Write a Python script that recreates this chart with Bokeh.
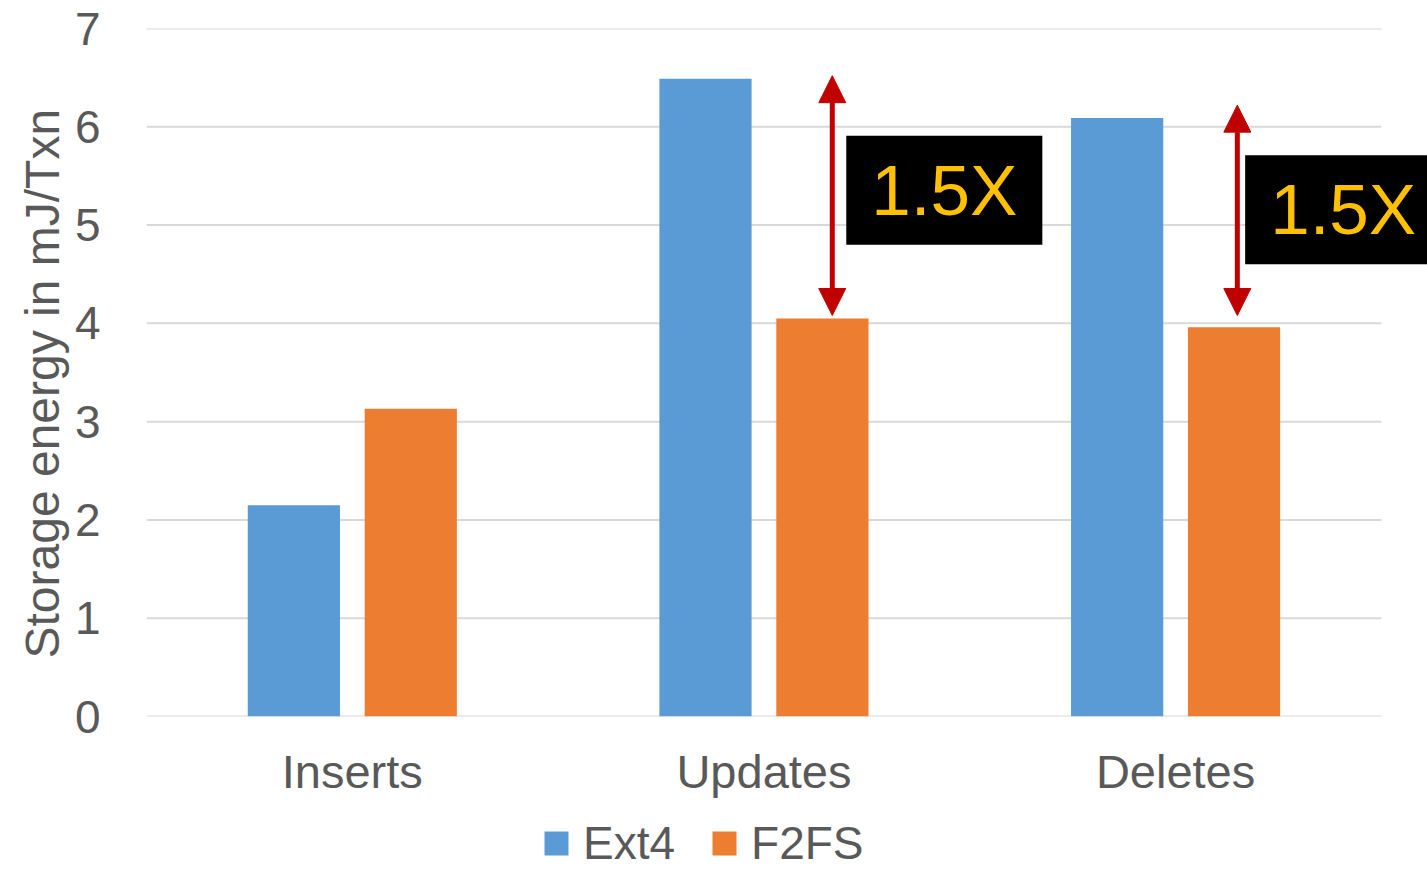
import numpy as np
from bokeh.plotting import figure
from bokeh.layouts import column
from bokeh.models import (ColumnDataSource, Range1d, FixedTicker, Legend, LegendItem,
                          Arrow, NormalHead, Label, Title)
from bokeh.transform import dodge
from bokeh.embed import file_html
from bokeh.resources import INLINE

# Storage energy per transaction (mJ/Txn)
categories = ["Inserts", "Updates", "Deletes"]
ext4 = [2.15, 6.49, 6.09]
f2fs = [3.13, 4.05, 3.96]
y_ticks = [0, 1, 2, 3, 4, 5, 6, 7]

# Reduction callouts: ratio text and arrow span (mJ/Txn)
callout_cats = ["Updates", "Deletes"]
callout_text = ["1.5X", "1.5X"]
arrow_top = [6.52, 6.22]
arrow_bottom = [4.08, 4.08]

FONT = "Liberation Sans"
GREY = "#595959"
GRID = "#D9D9D9"
BLUE = "#5B9BD5"
ORANGE = "#ED7D31"
RED = "#C00000"

n = len(categories)
xpos = np.arange(n) + 0.5
src = ColumnDataSource(dict(x=xpos, cat=categories, ext4=ext4, f2fs=f2fs))

# the frame runs on past the last category so the right callout box can reach the edge
p = figure(width=1427, height=800, x_range=Range1d(0, 3.112),
           y_range=Range1d(0, 7), output_backend="svg", toolbar_location=None,
           min_border_left=146, min_border_right=0, min_border_top=28,
           min_border_bottom=84)
p.outline_line_color = None
p.background_fill_color = "white"
p.border_fill_color = "white"
p.xgrid.grid_line_color = None
p.ygrid.grid_line_color = None

# horizontal gridlines spanning the category area only
p.segment(x0=0, x1=n, y0=y_ticks, y1=y_ticks, line_color=GRID, line_width=2)

r_ext4 = p.vbar(x=dodge("x", -0.142), top="ext4", width=0.224, source=src,
                fill_color=BLUE, line_color=None)
r_f2fs = p.vbar(x=dodge("x", 0.142), top="f2fs", width=0.224, source=src,
                fill_color=ORANGE, line_color=None)

# Axes
p.yaxis.ticker = FixedTicker(ticks=y_ticks)
p.yaxis.axis_line_color = None
p.yaxis.major_tick_line_color = None
p.yaxis.minor_tick_line_color = None
p.yaxis.major_label_text_font = FONT
p.yaxis.major_label_text_font_size = "46px"
p.yaxis.major_label_text_color = GREY
p.yaxis.major_label_standoff = 40

# y-axis caption, set a little below the middle of the value axis
p.add_layout(Title(text="Storage energy in mJ/Txn", align="left", offset=58,
                   text_font=FONT, text_font_size="48px", text_font_style="normal",
                   text_color=GREY, standoff=6), "left")

p.xaxis.ticker = FixedTicker(ticks=list(xpos))
p.xaxis.major_label_overrides = {float(x): c for x, c in zip(xpos, categories)}
p.xaxis.axis_line_color = None
p.xaxis.major_tick_line_color = None
p.xaxis.minor_tick_line_color = None
p.xaxis.major_label_text_font = FONT
p.xaxis.major_label_text_font_size = "47px"
p.xaxis.major_label_text_color = GREY
p.xaxis.major_label_standoff = 22

# Callout arrows and ratio boxes
cat_index = {c: i for i, c in enumerate(categories)}
arrow_offsets = [0.166, 0.150]
box_x = [0.20, 0.169]
box_top = [5.91, 5.71]
for c, txt, top, bot, ao, bx, bt in zip(callout_cats, callout_text, arrow_top,
                                        arrow_bottom, arrow_offsets, box_x, box_top):
    xc = xpos[cat_index[c]]
    p.add_layout(Arrow(x_start=xc + ao, y_start=bot, x_end=xc + ao, y_end=top,
                       line_color=RED, line_width=5,
                       start=NormalHead(size=27, fill_color=RED, line_color=RED),
                       end=NormalHead(size=27, fill_color=RED, line_color=RED)))
    p.add_layout(Label(x=xc + bx, y=bt, text=txt, anchor="top_left",
                       text_font=FONT, text_font_size="71px", text_color="#FFC000",
                       background_fill_color="black", padding=(25, 15)))

# Legend strip under the chart (its frame lines up with the chart frame)
lg = figure(width=1427, height=70, x_range=Range1d(0, 1), y_range=Range1d(0, 1),
            output_backend="svg", toolbar_location=None,
            min_border_left=0, min_border_right=0, min_border_top=0, min_border_bottom=0)
lg.axis.visible = False
lg.grid.grid_line_color = None
lg.outline_line_color = None
lg.border_fill_color = "white"
k_ext4 = lg.vbar(x="x", top="ext4", width=0.1, source=src, fill_color=BLUE,
                 line_color=None, visible=False)
k_f2fs = lg.vbar(x="x", top="f2fs", width=0.1, source=src, fill_color=ORANGE,
                 line_color=None, visible=False)
legend = Legend(items=[LegendItem(label="Ext4", renderers=[k_ext4]),
                       LegendItem(label="F2FS", renderers=[k_f2fs])],
                orientation="horizontal", location=(395, 0),
                glyph_width=30, glyph_height=30, label_standoff=12, spacing=34,
                label_text_font=FONT, label_text_font_size="46px",
                label_text_line_height=1.0,
                label_text_color=GREY, padding=0, margin=0,
                border_line_color=None, background_fill_alpha=0)
lg.add_layout(legend, "center")

layout = column(p, lg, spacing=0)
open("out.html", "w").write(file_html(layout, INLINE))
